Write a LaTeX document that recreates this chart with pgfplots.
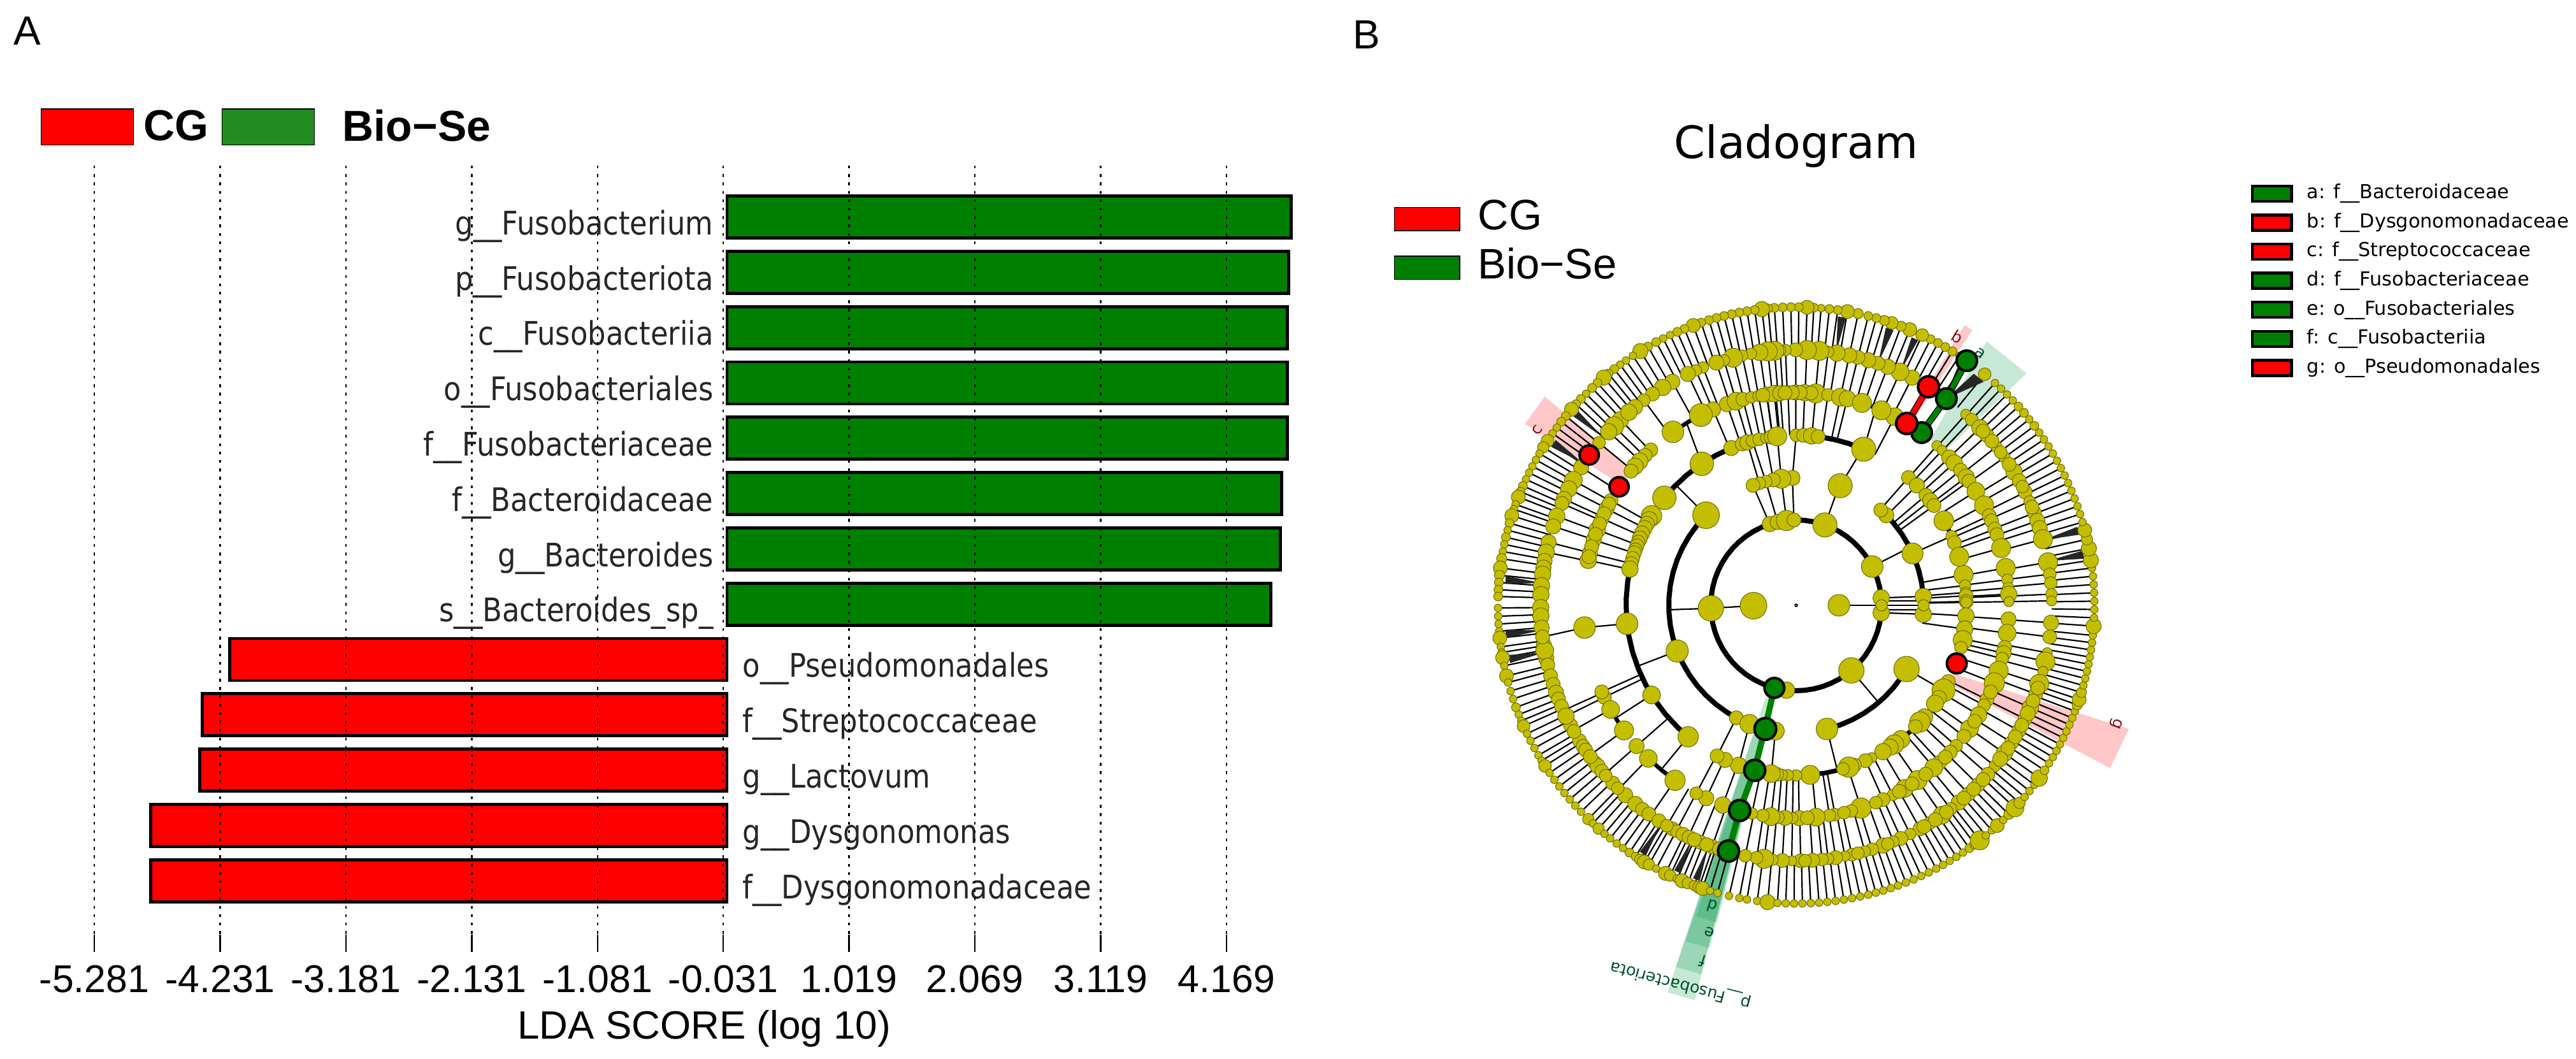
\documentclass[border=0pt]{standalone}
\usepackage{fontspec}
\usepackage{pgfplots}
\pgfplotsset{compat=1.18}
\setmainfont{Liberation Sans}
\newfontfamily\djs{DejaVu Sans}
\newfontfamily\djn[FakeStretch=0.88]{DejaVu Sans}
\definecolor{yel}{HTML}{C4BE00}
\definecolor{olv}{HTML}{6E6A00}
\definecolor{gr}{HTML}{008000}
\definecolor{fg}{HTML}{228B22}
\definecolor{wg}{HTML}{009646}
\definecolor{dkg}{HTML}{00502A}
\definecolor{dkr}{HTML}{8A1020}
\newcommand\fsz[1]{\fontsize{#1}{#1}\selectfont}
% node lists: angle / radius (px of the reference)
\def\Lone{180.5/20,0/16}
\def\Ltwo{-178/19,-96.5/12,-49.7/19,5/12,-5/12,0/8,27/16,70.3/18,108/11,102.5/11,96.5/15,91.5/10}
\def\Lthree{-159/16.5,135/20,-118/10,-111.5/14,-99.4/13,-76/16,-30/19,4/12,-4/12,0/8,24/15.5,45/11,48.4/10,69.8/18,91.7/11,96.7/14,100.3/10,103.8/9,106.8/9,109.8/10}
\def\LfourA{48.7/10,44.8/11,40.3/10,38/11,35.9/10,10.3/14,6.7/8,4.3/8,3.2/10,1.3/10,1/8,-3.6/12,-8/12}
\def\LfourB{-173.8/16,140.8/17.5,123.7/17.5,148.2/15,149.8/12,151.4/11,153/11,155/11,156.8/11,158.2/10,159.5/10,161/10,162/10,164/10,165.8/10,167.7/12,-148.2/13,-129.4/15,112.4/11,108.5/10,106.7/11,104.9/9,102.6/9,100.4/7,98.5/10,96.4/14,90/9,87.5/10,84.8/12,82.6/10,66.6/18,29.8/14.5,24/8,21.6/10,16.6/14,-11.8/14,-14.4/9,-26.6/10,-30/17,-33/11,-35.3/12.5,-41/12,-43.3/15,-45.5/10,-52/13,-54.8/14,-56.5/12,-59.3/12,-63.6/7,-66/10,-70/10,-72/15,-74/9,-85.3/14,-90/8,-92.8/8,-94.8/8,-96.6/10,-98.4/13,-109.8/12,-114.7/11,-117.7/10}
\def\LfiveA{150.5/10,153/11,155.9/10,159.2/12,162.1/11,165.8/11,167.8/12,113/11,109/11,106.4/13,104.5/10,102.2/8,100.2/8,98/10,95.5/12,97.9/11,95.9/12,94.3/11,92.2/10,90.1/11,87.7/12,84.7/14,81.4/9,78/13,76.1/12,62.4/13,48.6/7,46.7/7,44/11,42/12,39.4/10,37/12,35.7/10,32.4/13,28/14,24.9/10,23.4/10,21/10,19.4/10,15.6/14,10.1/14,6.9/8,4.7/8,2.6/10,3/12,1/7,-3.8/11,-7.5/13,-11.4/10,-13/11,-14.5/9,-17.9/14,-21.4/15,-26.3/10,-28/9,-31/12,-35.4/13,-38/10,-41.3/9,-43.6/10,-47.5/10,-49.7/13,-55.2/14,-59.4/13,-63/8,-65.9/10,-72.3/15,-79.5/9,-81/9,-84.6/13,-89.2/11,-91/8,-93/11,-94.9/9,-96.8/13,-99/9,-102/8,-110.2/12,-115/11,-118/9,-154.4/10,-156/10,-138.6/11}
\def\LfiveB{133.1/10,135.2/10,137.3/12,139.2/12,140.9/10,125.4/16,116.6/17,-150.7/13,-144/14,-134/13,-124.7/15,66.4/14,72/14,-174/16,-24/10,-33/10,-45.5/10,-52.5/10,-57/10,-61/10,-68/9,-75/9,-77/9,-87/10,86/10,88.9/10,91/10,93/10,99/10,151.6/10,154.5/10,157.5/10,160.5/10,164/10,166.8/10}
\def\LsixA{133.4/12,135.5/14,137.2/12,140.5/9,147.3/11,150.7/13,152.9/12,155.4/11,156.5/10,159.6/12,162/11,165.7/11,168/12,63/11,66/13,69/11,71.3/10,73.6/11,76/10,78/11,80.8/12,82.8/8,84.8/14,87.6/14,90.1/10,92.4/8,93.6/8,94.9/14,96.4/14,98.2/12,100.2/8,102.2/8,104.3/14,106.4/8,108.2/11,111.4/8,113.1/8,115.1/11,48.4/7,46.6/9,44/12,41.7/10,38.4/8,35.4/8,31.5/12,29.2/10,26.3/10,24/8,21.2/10,19.3/11,17.6/11,15/14,9.7/14,7/9,5/9,2.5/8,1/7,-3.9/11,-7.1/10,-10.7/7,-12.7/14,-15/7,-17.9/14,-20.3/10,-23.6/12,-26.4/10,-29.4/10,-32.5/10,-35.4/12,-39/8,-41.4/10,-44.6/10,-47.6/10,-50.5/11,-52.8/9,-55.2/13,-58.4/9,-61/10,-63.5/8,-65.8/10,-67.6/8,-70.1/11,-72.7/9,-74.4/8,-77.4/9,-79/7,-81.1/10,-82.8/8,-84.2/9,-86.3/10,-89/10,-91/7,-93.1/10,-95.3/8,-97.2/14,-98.9/9,-101.5/9,-109.2/10,-112.1/10}
\def\LsixB{119/11,121.5/12,124.2/10,126.6/9,129.1/11,130.9/12,170/11,171.5/11,173/12,175.6/12,177.6/12,-179.5/12,-177.6/12,-175/11,-171/11,-168/11,-169.8/13,-166.5/10,-164/10,-162/10,-160/11,-158.5/10,-156.7/10,-152/10,-148/10,-146.5/10,-145.5/10,-142/10,-141/11,-139.5/10,-135.9/10,-132/11,-129/11,-127/10,-125.2/10,-122.5/10,-119/10,-117.9/9,-116.3/10,-114.8/10,-113.5/10,-110.5/10,-107.5/10,-150.4/10,-143.7/10,-138.2/9,-134.3/9,-120.4/9,-154.3/12,-172.9/10,22.6/10,27.7/9,33.5/10,36.8/9,40/10,43/10,-18.9/10,-22/10,-25/11,-28/10,-31/10,-34/10,-37/11,-43/10,-46/10,-49/10,-54/10,-57/10,-60/10,-69/9,-76/9,-88/9}
\def\Lseven{-179.5/5,-177.9/5,-176.4/5,-175/5,-173.7/10,-172/5,-170.9/5,-169.9/10,-168.3/5,-166.3/10,-165/5,-163.3/5,-161.7/5,-160/6,-158.5/5,-157.2/5,-156.1/9,-154.5/5,-153/5,-151.4/5,-149.8/5,-148.6/5,-147.4/9,-145.8/5,-144.2/5,-142.6/5,-141/5,-139.4/5,-137.8/5,-136.2/5,-134.2/8,-133/5,-131.5/8,-130/5,-128.6/5,-127/5,-125.5/5,-124/6,-122.6/6,-121.5/8,-120.6/10,-119.6/8,-118/5,-116/10,-115/8,-113.5/6,-112.5/10,-111.3/8,-110/7,-109/9,-108.3/10,-106.8/5,-105.3/5,-103/5,-101/5,-99.5/5,-97.5/5,-95.5/11,-93.6/5,-92/5,-90.4/5,-88.8/5,-87.2/5,-85.6/5,-84/5,-82.4/5,-80.8/5,-79.2/5,-77.6/5,-76/5,-74.5/5,-73/5,-71.5/5,-70/5,-68.4/5,-66.8/5,-65.2/5,-63.6/5,-62/5,-60.5/5,-59/5,-57.5/5,-56/5,-54.5/6,-53.2/7,-52/14,-50.5/5,-49/5,-47.6/10,-46/5,-44.5/7,-42.8/13,-41.5/8,-40/5,-38.5/5,-37/5,-35.4/12,-33.6/6,-32/5,-30.6/5,-29.2/5,-27.8/5,-26.4/5,-25/5,-23.6/5,-22.2/5,-20.8/5,-19.5/7,-18.4/10,-17/7,-15.6/5,-14.2/5,-12.8/5,-11.4/5,-10/5,-8.6/5,-7.2/5,-5.8/5,-4/11,-2.4/5,-0.8/5,0.8/5,2.4/5,4/5,5.6/5,7.2/5,8.7/11,11/11,12.8/8,14.6/10,16.2/5,17.8/5,19.4/5,21/5,22.6/5,24.2/5,25.8/5,27.4/5,29/5,30.6/5,32.2/5,33.8/5,35.4/5,37/6,38.6/5,40.2/6,41.8/6,43.4/5,45/5,46.6/5,48.2/5,50.8/9,55.1/5,56.8/5,58.4/6,60/6,61.6/6,63.2/6,65/9,67.6/10,69.4/7,71.3/9,72.8/7,74.4/6,76/6,78/7,80.1/10,82/6,83.6/6,85.2/5,86.6/6,87.9/10,89.5/6,91/6,92.6/6,94.2/6,95.4/6,96.6/11,98/6,99.5/6,101/6,102.5/6,104/6,105.5/6,107/6,108.6/6,110.2/10,112/6,113.5/6,115/5,116.5/5,118/6,119.8/6,121.5/11,123.2/5,124.8/5,126.2/5,127.6/6,129/6,130.2/11,131.8/6,133.2/6,134.8/5,136.2/6,137.6/6,138.9/10,140.6/6,142/6,143.4/5,144.8/5,146.5/9,148/8,149.4/5,150.8/5,152.2/5,153.6/5,155/5,156.4/6,157.6/6,158.7/10,160.2/5,161.2/5,162.5/10,164/6,165.4/5,166.8/6,168.2/5,169.6/5,171/7,172.8/10,174.2/7,175.6/6,177/6,178.3/6}
% spoke and table builders
\newcommand\addspokes[3]{\foreach \tha/\szz in #1 {\edef\tmp{\noexpand\addplot[spk] coordinates {(\tha,#2)(\tha,#3)};}\tmp}}
\newcommand\ringnodes[2]{%
  \gdef\tabstr{t r s\\}%
  \foreach \tha/\szz in #1 {\xdef\tabstr{\unexpanded\expandafter{\tabstr}\tha\space #2\space \szz\noexpand\\}}%
  \edef\tmp{\noexpand\addplot[cnode] table[row sep=\noexpand\\,x=t,y=r]{\unexpanded\expandafter{\tabstr}};}\tmp}
\pgfplotsset{cnode/.style={only marks,mark=*,data cs=polar,scatter,
  scatter/use mapped color={draw=olv,fill=yel,line width=.25pt},
  visualization depends on={0.25*\thisrow{s}+0.25 \as \msize},
  scatter/@pre marker code/.append style={/tikz/mark size=\msize}},
  hinode/.style={only marks,mark=*,data cs=polar,scatter,
  scatter/use mapped color={draw=black,fill=#1,line width=1pt},
  visualization depends on={0.25*\thisrow{s} \as \msize},
  scatter/@pre marker code/.append style={/tikz/mark size=\msize}},
  spk/.style={black,line width=.55pt,data cs=polar,mark=none},
  wedge/.style={fill=#1,draw=none,data cs=polar,fill opacity=.22},
  arcl/.style={black,line width=#1,data cs=polar,line join=round,mark=none}}
\begin{document}
\begin{tikzpicture}
\path[use as bounding box] (0,0) rectangle (1010.75pt,415.25pt);
% ---------- Panel A
\begin{axis}[at={(25pt,41.75pt)},anchor=south west,scale only axis,width=495pt,height=308.5pt,
  xmin=-5.537,xmax=4.995,ymin=-0.9286,ymax=13.288,y dir=reverse,clip=false,
  axis line style={draw=none},axis on top,
  xtick={-5.281,-4.231,-3.181,-2.131,-1.081,-0.031,1.019,2.069,3.119,4.169},
  xticklabels={-5.281,-4.231,-3.181,-2.131,-1.081,-0.031,1.019,2.069,3.119,4.169},
  ytick=\empty,xtick pos=bottom,tick align=inside,major tick length=6.75pt,
  tick style={black,line width=.6pt},xmajorgrids,
  grid style={black,line width=.6pt,dash pattern=on 1.1pt off 2.2pt},
  xticklabel style={font=\fsz{15.2},yshift=-1.75pt},
  xlabel={LDA SCORE (log 10)},
  every axis x label/.style={at={(axis cs:-0.19,14.68)},anchor=center,font=\fsz{15.5}},
  legend image code/.code={\draw[#1] (0pt,-7.1pt) rectangle (36.2pt,7.1pt);},
  legend columns=2,
  legend style={at={(axis cs:-5.734,-1.97)},anchor=north west,draw=none,fill=none,inner sep=0pt,
    font=\fsz{17}\bfseries,nodes={inner sep=0pt,anchor=west},
    /tikz/column 1/.style={column sep=4pt},/tikz/column 2/.style={column sep=5pt},/tikz/column 3/.style={column sep=11pt}},
  bar shift=0pt,bar width=16.5pt]
\addlegendimage{draw=black,line width=.3pt,fill=red}\addlegendentry{CG}
\addlegendimage{draw=black,line width=.3pt,fill=fg}\addlegendentry{Bio−Se}
\addplot[xbar,bar shift=0pt,bar width=16.5pt,draw=black,line width=1.2pt,fill=gr] coordinates {(4.71,0)(4.69,1)(4.68,2)(4.68,3)(4.68,4)(4.63,5)(4.62,6)(4.54,7)};
\addplot[xbar,bar shift=0pt,bar width=16.5pt,draw=black,line width=1.2pt,fill=red] coordinates {(-4.15,8)(-4.38,9)(-4.40,10)(-4.81,11)(-4.81,12)};
\begin{scope}[every node/.style={font=\djn\fsz{12.75},text=black!85,inner sep=0pt}]
\node[anchor=base east] at (axis cs:-0.11,0.32) {g\_\_Fusobacterium};
\node[anchor=base east] at (axis cs:-0.11,1.32) {p\_\_Fusobacteriota};
\node[anchor=base east] at (axis cs:-0.11,2.32) {c\_\_Fusobacteriia};
\node[anchor=base east] at (axis cs:-0.11,3.32) {o\_\_Fusobacteriales};
\node[anchor=base east] at (axis cs:-0.11,4.32) {f\_\_Fusobacteriaceae};
\node[anchor=base east] at (axis cs:-0.11,5.32) {f\_\_Bacteroidaceae};
\node[anchor=base east] at (axis cs:-0.11,6.32) {g\_\_Bacteroides};
\node[anchor=base east] at (axis cs:-0.11,7.32) {s\_\_Bacteroides\_sp\_};
\node[anchor=base west] at (axis cs:0.128,8.32) {o\_\_Pseudomonadales};
\node[anchor=base west] at (axis cs:0.128,9.32) {f\_\_Streptococcaceae};
\node[anchor=base west] at (axis cs:0.128,10.32) {g\_\_Lactovum};
\node[anchor=base west] at (axis cs:0.128,11.32) {g\_\_Dysgonomonas};
\node[anchor=base west] at (axis cs:0.128,12.32) {f\_\_Dysgonomonadaceae};
\end{scope}
\end{axis}
% ---------- Panel B, cladogram: data in px around the centre of the rings
\begin{axis}[at={(0pt,0pt)},anchor=south west,scale only axis,width=1010.75pt,height=415.25pt,
  xmin=-2819,xmax=1224,ymin=-711,ymax=950,hide axis,clip=false,
  legend image code/.code={\fill[#1] (0pt,-4.6pt) rectangle (25.6pt,4.6pt);},
  legend style={at={(axis cs:-632,638)},anchor=north west,draw=none,fill=none,inner sep=0pt,
    font=\fsz{16.75},row sep=3.6pt,nodes={inner sep=0pt,anchor=west,text height=12pt,text depth=3.5pt},
    /tikz/column 1/.style={column sep=7pt}}]
\addlegendimage{fill=red}\addlegendentry{CG}
\addlegendimage{fill=gr}\addlegendentry{Bio−Se}
% shaded clades
\addplot[wedge=red] coordinates {(-20.4,557)(-27.4,555)(-27.1,278)(-23.5,268)} --cycle;
\addplot[wedge=red] coordinates {(140.3,513)(146.2,512)(145.4,335)(140.4,335)} --cycle;
\addplot[wedge=red] coordinates {(57.4,513)(59,513)(59,335)(57.6,335)} --cycle;
\addplot[wedge=wg] coordinates {(54.2,511)(45.2,513)(46,340)(51,335)} --cycle;
\addplot[wedge=wg] coordinates {(-108.4,640)(-104.4,640)(-104.4,134)(-108.4,134)} --cycle;
\addplot[wedge=wg] coordinates {(-108.4,598)(-104.4,598)(-104.4,200)(-108.4,200)} --cycle;
\addplot[wedge=wg] coordinates {(-108.2,555)(-104.2,555)(-104.2,267)(-108.2,267)} --cycle;
\addplot[wedge=wg] coordinates {(-107.8,513)(-104,513)(-104,334)(-107.8,334)} --cycle;
% spokes
\addspokes{\Lseven}{401}{468}
\addspokes{\LsixA}{334}{401}
\addspokes{\LfiveA}{267}{334}
\addspokes{\LfourA}{200}{267}
\foreach \a/\b/\c/\d in {180.5/67/-178/134,0/67/0/134,
 -178/134/-178/200,-49.7/134/-49.7/200,27/134/27/200,70.3/134/70.3/200,
 108/134/109.8/200,102.5/134/103.8/200,96.5/134/96.7/200,91.5/134/91.7/200,
 5/134/4/200,0/134/0/200,-5/134/-4/200,3/134/2/200,-3/134/-2/200,
 -159/200/-159/267,135/200/135/267,-76/200/-76/267,-30/200/-30/267,24/200/24/267,
 69.8/200/67/267,91.7/200/90/267,96.7/200/96.4/267,100.3/200/100.4/267,103.8/200/104.9/267,106.8/200/106.7/267,
 -118/200/-117.7/267,-111.5/200/-109.8/267,-99.4/200/-98.4/267,
 -173.8/267/-174/334,-148.2/267/-148/334,-129.4/267/-129.4/334,123.7/267/121/334,66.6/267/68/334,
 -174/334/-172.9/401,-155.7/334/-155.7/401,-154.4/334/-154.3/401,-150.7/334/-150.7/401,-144/334/-144/401,-138.6/334/-138.6/401,-134/334/-134/401,-124.7/334/-124.7/401,-120.4/334/-120.4/401,-118/334/-118/401,-115/334/-115/401,
 119/334/119/401,126.6/334/126.6/401}{
 \edef\tmp{\noexpand\addplot[spk] coordinates {(\a,\b)(\c,\d)};}\tmp}
% fans of leaves
\foreach \a/\b/\c in {81/80.2/81.8,71.3/70.5/72.1,66/65.3/66.7,14.8/14/15.6,10/9.2/10.8,139/138.3/139.7,146.3/145.5/147.1,175/174.2/175.8,-174.4/-175.2/-173.6,-169.4/-170.2/-168.6,-121.7/-122.4/-121,-114/-114.7/-113.3,-110/-110.7/-109.3,54/50/52.5,54.5/55/56}{
 \edef\tmp{\noexpand\addplot[fill=black!85,draw=none,data cs=polar] coordinates {(\a,401)(\b,458)(\c,458)} --cycle;}\tmp}
% thick arcs
\addplot[arcl=2pt] coordinates {(0,134)(6,134)(12,134)(18,134)(24,134)(30,134)(36,134)(42,134)(48,134)(54,134)(60,134)(66,134)(72,134)(78,134)(84,134)(90,134)(96,134)(102,134)(108,134)(114,134)(120,134)(126,134)(132,134)(138,134)(144,134)(150,134)(156,134)(162,134)(168,134)(174,134)(180,134)(186,134)(192,134)(198,134)(204,134)(210,134)(216,134)(222,134)(228,134)(234,134)(240,134)(246,134)(252,134)(258,134)(264,134)(270,134)(276,134)(282,134)(288,134)(294,134)(300,134)(306,134)(312,134)(318,134)(324,134)(330,134)(336,134)(342,134)(348,134)(354,134)(360,134)};
\addplot[arcl=2pt] coordinates {(135,200)(141,200)(147,200)(153,200)(159,200)(165,200)(171,200)(177,200)(183,200)(189,200)(195,200)(201,200)(207,200)(213,200)(219,200)(225,200)(231,200)(237,200)(242,200)};
\addplot[arcl=2pt] coordinates {(-76,200)(-70,200)(-64,200)(-58,200)(-52,200)(-46,200)(-40,200)(-34,200)(-30,200)};
\addplot[arcl=2pt] coordinates {(4,200)(10,200)(16,200)(22,200)(28,200)(34,200)(40,200)(45,200)};
\addplot[arcl=2pt] coordinates {(112,267)(118,267)(124,267)(130,267)(136,267)(142,267)(148,267)(154,267)(160,267)(166,267)(172,267)(178,267)(184,267)(190,267)(196,267)(202,267)(208,267)(214,267)(220,267)(226,267)(231,267)};
\addplot[arcl=2pt] coordinates {(66.6,267)(72,267)(77,267)(82,267)};
\addplot[arcl=1.8pt] coordinates {(-98,267)(-92,267)(-86,267)(-80,267)(-76,267)(-72,267)};
\addplot[arcl=1.8pt] coordinates {(-30,267)(-36,267)(-42,267)(-48,267)(-53,267)};
\addplot[arcl=1.8pt] coordinates {(22,267)(26,267)(30,267)};
\addplot[arcl=1.6pt] coordinates {(116.6,334)(120,334)(125.4,334)};
\addplot[arcl=1.6pt] coordinates {(66.4,334)(69,334)(72,334)};
\addplot[arcl=1.6pt] coordinates {(-150.7,334)(-147,334)(-144,334)};
\addplot[arcl=1.6pt] coordinates {(-134,334)(-129,334)(-124.7,334)};
% nodes
\ringnodes{\Lseven}{468}
\ringnodes{\LsixA}{401}
\ringnodes{\LsixB}{401}
\ringnodes{\LfiveA}{334}
\ringnodes{\LfiveB}{334}
\ringnodes{\LfourA}{267}
\ringnodes{\LfourB}{267}
\ringnodes{\Lthree}{200}
\ringnodes{\Ltwo}{134}
\ringnodes{\Lone}{67}
\addplot[only marks,mark=*,mark size=.5pt,mark options={fill=yel,draw=none}] coordinates {(0,0)};
% marked branches
\addplot[black,line width=2.6pt,data cs=polar,mark=none] coordinates {(58.7,334)(58.8,401)};
\addplot[red,line width=2pt,data cs=polar,mark=none] coordinates {(58.7,334)(58.8,401)};
\addplot[black,line width=2.6pt,data cs=polar,mark=none] coordinates {(54,334)(54,401)(55.1,468)};
\addplot[gr,line width=2pt,data cs=polar,mark=none] coordinates {(54,334)(54,401)(55.1,468)};
\addplot[gr,line width=2.4pt,data cs=polar,mark=none] coordinates {(-104.8,134)(-104.2,200)(-104.2,267)(-105.4,334)(-105.4,400)};
\addplot[hinode=gr] table[row sep=\\,x=t,y=r] {t r s\\ -104.8 134 15.5\\ -104 200 17\\ -104.1 267 16.5\\ -105.4 334 16.5\\ -105.4 400 16.5\\ 54 335 16\\ 54 401 16\\ 55.1 468 16\\};
\addplot[hinode=red] table[row sep=\\,x=t,y=r] {t r s\\ 58.7 334 16.5\\ 58.8 401 16.5\\ 144 401.6 15\\ 146.2 334.5 15\\ -19.9 268 15.5\\};
% clade letters
\begin{scope}[every node/.style={font=\djs\fsz{6.3},inner sep=0pt}]
\node[text=dkg,rotate=-36] at (axis cs:289,396) {a};
\node[text=dkr,rotate=-31] at (axis cs:253,421) {b};
\node[text=dkr,rotate=56] at (axis cs:-406,275) {c};
\node[text=dkr,rotate=-110] at (axis cs:501.6,-185.6) {g};
\node[text=dkg,rotate=163] at (axis cs:-132,-472) {d};
\node[text=dkg,rotate=163] at (axis cs:-136,-513) {e};
\node[text=dkg,rotate=163] at (axis cs:-147,-558) {f};
\node[text=dkg,rotate=165] at (axis cs:-181,-595) {p\_\_Fusobacteriota};
\end{scope}
\node[font=\djs\fsz{17.5}] at (axis cs:0,721) {Cladogram};
\end{axis}
% ---------- key of the clades, and the panel letters
\begin{axis}[at={(0pt,0pt)},anchor=south west,scale only axis,width=1010.75pt,height=415.25pt,
  xmin=0,xmax=4043,ymin=0,ymax=1661,hide axis,clip=false,
  legend image code/.code={\draw[#1] (0pt,-3pt) rectangle (15.4pt,3pt);},
  legend style={at={(axis cs:3532,1374)},anchor=north west,draw=none,fill=none,inner sep=0pt,
    font=\djs\fsz{7.56},row sep=3.4pt,nodes={inner sep=0pt,anchor=west,text height=6pt,text depth=2pt},
    /tikz/column 1/.style={column sep=5.5pt}}]
\addlegendimage{draw=black,line width=1.1pt,fill=gr}\addlegendentry{a: f\_\_Bacteroidaceae}
\addlegendimage{draw=black,line width=1.1pt,fill=red}\addlegendentry{b: f\_\_Dysgonomonadaceae}
\addlegendimage{draw=black,line width=1.1pt,fill=red}\addlegendentry{c: f\_\_Streptococcaceae}
\addlegendimage{draw=black,line width=1.1pt,fill=gr}\addlegendentry{d: f\_\_Fusobacteriaceae}
\addlegendimage{draw=black,line width=1.1pt,fill=gr}\addlegendentry{e: o\_\_Fusobacteriales}
\addlegendimage{draw=black,line width=1.1pt,fill=gr}\addlegendentry{f: c\_\_Fusobacteriia}
\addlegendimage{draw=black,line width=1.1pt,fill=red}\addlegendentry{g: o\_\_Pseudomonadales}
\node[font=\fsz{16}] at (axis cs:43,1612) {A};
\node[font=\fsz{16}] at (axis cs:2145,1606) {B};
\end{axis}
\end{tikzpicture}
\end{document}
